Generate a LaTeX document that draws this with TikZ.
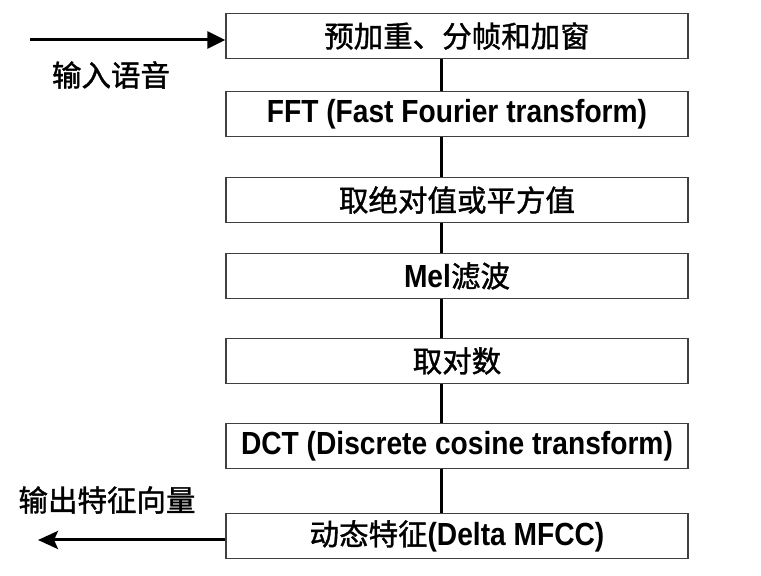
\documentclass[tikz,border=0pt]{standalone}
\usepackage{fontspec}
\usepackage{graphicx}
\setmainfont{Liberation Sans}
\newfontfamily\cjk[FakeBold=1.3]{Noto Sans CJK SC}
\usetikzlibrary{arrows.meta}
\newcommand\zh[1]{{\cjk\fontsize{29.5}{32}\selectfont #1}}
\newcommand\en[1]{\scalebox{0.88}[1]{\fontsize{32}{34}\selectfont\bfseries #1}}
\tikzset{
  box/.style={draw=black!75, line width=1.5pt, fill=white, minimum width=462pt, minimum height=45pt, inner sep=0pt},
  conn/.style={line width=3pt, black},
  arrin/.style={line width=3pt, black, -{Triangle[length=18pt, width=17pt]}},
  arrout/.style={line width=3pt, black, -{Stealth[length=20pt, width=18pt, inset=4pt]}},
  lbl/.style={inner sep=0pt}
}
\begin{document}
\begin{tikzpicture}[x=1pt, y=1pt]
\useasboundingbox (0,0) rectangle (761,576);
\node[box] (b1) at (457,540) {\zh{预加重、分帧和加窗}};
\node[box] (b2) at (457,462) {\en{FFT (Fast Fourier transform)}};
\node[box] (b3) at (457,376) {\zh{取绝对值或平方值}};
\node[box] (b4) at (457,300) {\en{Mel}\zh{滤波}};
\node[box] (b5) at (457,215) {\zh{取对数}};
\node[box] (b6) at (457,130) {\en{DCT (Discrete cosine transform)}};
\node[box] (b7) at (457,40) {\zh{动态特征}\en{(Delta MFCC)}};
\foreach \a/\b in {b1/b2, b2/b3, b3/b4, b4/b5, b5/b6, b6/b7}
  \draw[conn] ([xshift=-16pt]\a.south) -- ([xshift=-16pt]\b.north);
\coordinate (in) at (30,536);
\draw[arrin] (in) -- (b1.west |- in);
\coordinate (out) at (38,36);
\draw[arrout] (b7.west |- out) -- (out);
\node[lbl] (lin) at (111,501) {\zh{输入语音}};
\node[lbl] (lout) at (107,76) {\zh{输出特征向量}};
\end{tikzpicture}
\end{document}
